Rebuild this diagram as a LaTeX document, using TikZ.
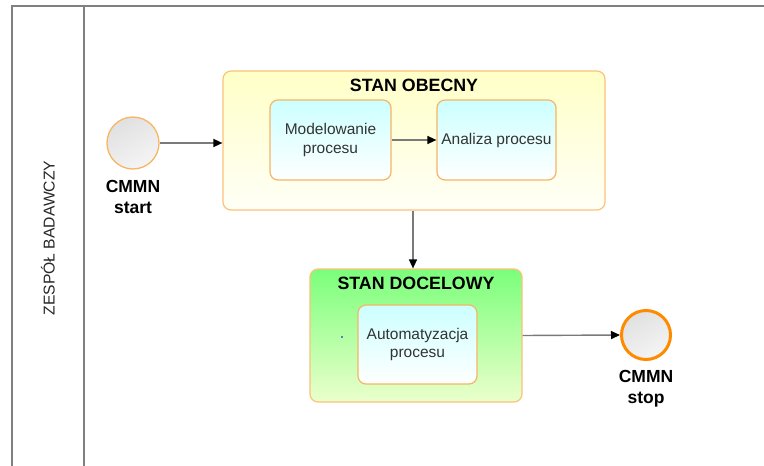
\documentclass[tikz,border=0pt]{standalone}
\usepackage{fontspec}
\setmainfont{Liberation Sans}
\usetikzlibrary{arrows.meta}
\definecolor{poolline}{HTML}{808080}
\definecolor{flowline}{HTML}{7A7A7A}
\definecolor{taskedge}{HTML}{F7B565}
\definecolor{stageedge}{HTML}{FBC27A}
\definecolor{stopedge}{HTML}{FF8A00}
\tikzset{
  pool/.style={draw=poolline, line width=2pt},
  stage/.style={draw=stageedge, line width=1.2pt, rounded corners=8pt, rectangle},
  currentstage/.style={stage, top color=yellow!22!white, bottom color=yellow!3!white},
  targetstage/.style={stage, top color=green!52!white, bottom color=green!20!lime!20!white},
  task/.style={draw=taskedge, line width=1.2pt, rounded corners=8pt, rectangle,
    top color=cyan!20!white, bottom color=white, align=center, text=black!80,
    font=\fontsize{15.5}{18.5}\selectfont, minimum width=120pt, minimum height=80pt},
  event/.style={circle, minimum size=52pt, inner sep=0pt,
    top color=white!88!black, bottom color=white!96!black, shading angle=30},
  eventlabel/.style={align=center, font=\bfseries\fontsize{17.5}{21}\selectfont},
  stagetitle/.style={font=\bfseries\fontsize{17.8}{21}\selectfont},
  flow/.style={draw=flowline, line width=1.4pt, -{Triangle[length=9pt,width=8pt,color=black]}}
}
\begin{document}
\begin{tikzpicture}[x=1pt, y=-1pt]
  \useasboundingbox (0,0) rectangle (764,466);

  % pool and lane
  \draw[pool] (12,466) -- (12,6) -- (764,6);
  \draw[pool] (84,6) -- (84,466);
  \node[rotate=90, font=\fontsize{15.7}{18}\selectfont, text=black!85] (lane) at (48,238) {ZESPÓŁ BADAWCZY};

  % stages
  \node[currentstage, minimum width=382pt, minimum height=139pt] (obecny) at (414,140.5) {};
  \node[stagetitle] (obecnyT) at (414,85) {STAN OBECNY};
  \node[targetstage, minimum width=212pt, minimum height=133pt] (docelowy) at (416,335.5) {};
  \node[stagetitle] (docelowyT) at (416,283) {STAN DOCELOWY};

  % tasks
  \node[task, minimum width=121pt] (model) at (330.5,140) {Modelowanie\\procesu};
  \node[task, minimum width=119pt] (analiza) at (496.5,140) {Analiza procesu};
  \node[task, minimum width=119pt, minimum height=79pt] (auto) at (417.5,344.5) {Automatyzacja\\procesu};
  \fill[blue!70!black] (342,337) circle (0.9pt);

  % events
  \node[event, draw=taskedge, line width=1.3pt] (start) at (133,143) {};
  \node[eventlabel] (startL) at (133,197) {CMMN\\start};
  \node[event, draw=stopedge, line width=3pt, minimum size=49pt] (stop) at (646,335) {};
  \node[eventlabel] (stopL) at (646,389) {CMMN\\stop};

  % flows
  \draw[flow] (start.east) -- (start.east -| obecny.west);
  \draw[flow] (model.east) -- (analiza.west);
  \draw[flow] (obecny.south -| 413,0) -- (docelowy.north -| 413,0);
  \draw[flow] (docelowy.east) -- (stop.west);
\end{tikzpicture}
\end{document}
